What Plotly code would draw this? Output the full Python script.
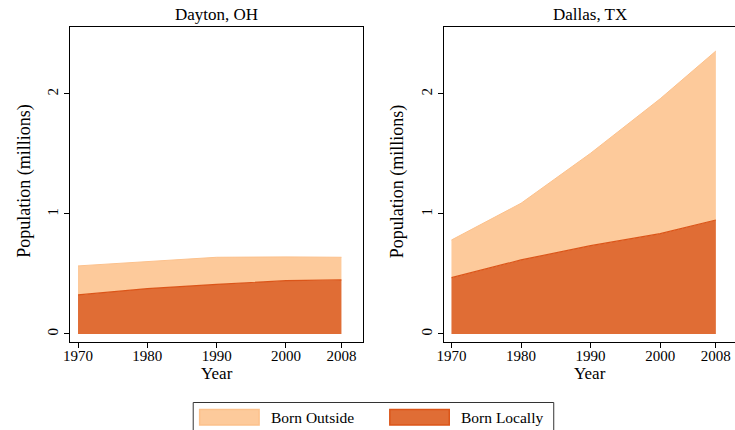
import plotly.graph_objects as go

# Population by birthplace, millions
years = [1970, 1980, 1990, 2000, 2008]
dayton_local = [0.325, 0.378, 0.414, 0.444, 0.450]
dayton_outside = [0.242, 0.228, 0.225, 0.198, 0.189]
dallas_local = [0.469, 0.617, 0.736, 0.836, 0.950]
dallas_outside = [0.314, 0.472, 0.770, 1.124, 1.408]

cities = ["Dayton, OH", "Dallas, TX"]
y_ticks = [0, 1, 2]

W, H = 735, 430
FONT = "Liberation Serif"
C_OUT_FILL = "#FDCA9B"
C_OUT_LINE = "#FCC18C"
C_LOC_FILL = "#E06D35"
C_LOC_LINE = "#DB5519"


def px(x):
    return x / W


def py(y):
    return 1 - y / H


fig = go.Figure()

panels = [
    (dayton_local, dayton_outside, "x", "y"),
    (dallas_local, dallas_outside, "x2", "y2"),
]
for i, (loc, out, xa, ya) in enumerate(panels):
    grp = f"g{i}"
    fig.add_trace(go.Scatter(
        x=years, y=loc, xaxis=xa, yaxis=ya, stackgroup=grp,
        mode="lines", line=dict(color=C_LOC_LINE, width=1.2),
        fillcolor=C_LOC_FILL, name="Born Locally", showlegend=False,
        hoverinfo="skip"))
    fig.add_trace(go.Scatter(
        x=years, y=out, xaxis=xa, yaxis=ya, stackgroup=grp,
        mode="lines", line=dict(color=C_OUT_LINE, width=1),
        fillcolor=C_OUT_FILL, name="Born Outside", showlegend=False,
        hoverinfo="skip"))

y_range = [-0.067, 2.558]
axis_common = dict(
    showgrid=False, zeroline=False, showline=True, linecolor="#000",
    linewidth=1.3, ticks="outside", ticklen=5, tickcolor="#000",
    tickfont=dict(family=FONT, size=15, color="#000"),
)

fig.update_layout(
    width=W, height=H,
    margin=dict(l=0, r=0, t=0, b=0),
    paper_bgcolor="white", plot_bgcolor="white",
    font=dict(family=FONT, color="#000"),
    showlegend=False,
    xaxis=dict(domain=[px(64), px(359)], range=[1968.9, 2011.05],
               tickvals=years, mirror=True, anchor="y",
               ticklabelstandoff=-5, **axis_common),
    yaxis=dict(domain=[py(342), py(27)], range=y_range, tickvals=y_ticks,
               mirror=True, tickangle=-90, anchor="x", **axis_common),
    xaxis2=dict(domain=[px(441), 1.0], range=[1968.9, 2010.75],
                tickvals=years, mirror=True, anchor="y2",
                ticklabelstandoff=-5, **axis_common),
    yaxis2=dict(domain=[py(342), py(27)], range=y_range, tickvals=y_ticks,
                mirror=False, tickangle=-90, anchor="x2", **axis_common),
)

annotations = []
# panel titles
for cx, name in [(212, cities[0]), (589, cities[1])]:
    annotations.append(dict(
        x=px(cx), y=py(14.5), xref="paper", yref="paper", text=name,
        showarrow=False, font=dict(family=FONT, size=17),
        xanchor="center", yanchor="middle"))
# axis titles
for cx in [212, 589]:
    annotations.append(dict(
        x=px(cx), y=py(373), xref="paper", yref="paper", text="Year",
        showarrow=False, font=dict(family=FONT, size=17),
        xanchor="center", yanchor="middle"))
for cx in [17, 394]:
    annotations.append(dict(
        x=px(cx), y=py(181), xref="paper", yref="paper",
        text="Population (millions)", textangle=-90,
        showarrow=False, font=dict(family=FONT, size=18),
        xanchor="center", yanchor="middle"))

# legend box with wide swatches
shapes = [dict(type="rect", xref="paper", yref="paper",
               x0=px(188), x1=px(552), y0=py(445), y1=py(402.5),
               line=dict(color="#333", width=1), fillcolor="white")]
legend_items = [
    ("Born Outside", C_OUT_FILL, C_OUT_LINE, 194.5, 265),
    ("Born Locally", C_LOC_FILL, C_LOC_LINE, 386.5, 456),
]
for label, fill, edge, sx, tx in legend_items:
    shapes.append(dict(type="rect", xref="paper", yref="paper",
                       x0=px(sx), x1=px(sx + 60), y0=py(425), y1=py(409.5),
                       line=dict(color=edge, width=1.5), fillcolor=fill))
    annotations.append(dict(
        x=px(tx), y=py(417), xref="paper", yref="paper", text=label,
        showarrow=False, font=dict(family=FONT, size=15.5),
        xanchor="left", yanchor="middle"))

fig.update_layout(annotations=annotations, shapes=shapes)
fig.write_html("out.html")
